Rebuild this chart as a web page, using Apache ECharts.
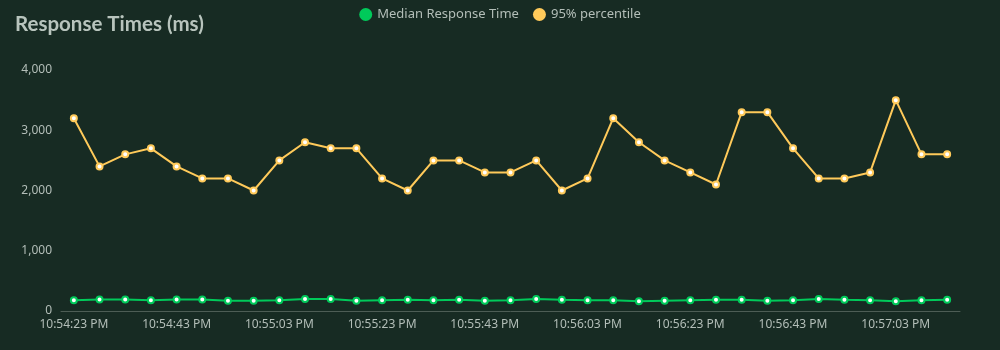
<!DOCTYPE html>
<html>
<head>
<meta charset="utf-8">
<title>Response Times (ms)</title>
<script src="https://cdn.jsdelivr.net/npm/echarts@6/dist/echarts.min.js"></script>
<style>
  html, body { margin: 0; padding: 0; background: #172b23; }
  #chart { width: 1000px; height: 350px; }
</style>
</head>
<body>
<div id="chart"></div>
<script>
// Sample timestamps, one every 5 seconds
const times = [
  '10:54:23 PM', '10:54:28 PM', '10:54:33 PM', '10:54:38 PM', '10:54:43 PM',
  '10:54:48 PM', '10:54:53 PM', '10:54:58 PM', '10:55:03 PM', '10:55:08 PM',
  '10:55:13 PM', '10:55:18 PM', '10:55:23 PM', '10:55:28 PM', '10:55:33 PM',
  '10:55:38 PM', '10:55:43 PM', '10:55:48 PM', '10:55:53 PM', '10:55:58 PM',
  '10:56:03 PM', '10:56:08 PM', '10:56:13 PM', '10:56:18 PM', '10:56:23 PM',
  '10:56:28 PM', '10:56:33 PM', '10:56:38 PM', '10:56:43 PM', '10:56:48 PM',
  '10:56:53 PM', '10:56:58 PM', '10:57:03 PM', '10:57:08 PM', '10:57:13 PM'
];

// Median response time (ms)
const median = [
  180, 190, 190, 180, 190, 190, 170, 170, 180, 200,
  200, 170, 180, 185, 180, 185, 170, 180, 200, 185,
  180, 180, 160, 170, 180, 185, 185, 170, 180, 200,
  185, 180, 160, 180, 185
];

// 95th percentile response time (ms)
const p95 = [
  3200, 2400, 2600, 2700, 2400, 2200, 2200, 2000, 2500, 2800,
  2700, 2700, 2200, 2000, 2500, 2500, 2300, 2300, 2500, 2000,
  2200, 3200, 2800, 2500, 2300, 2100, 3300, 3300, 2700, 2200,
  2200, 2300, 3500, 2600, 2600
];

const seriesNames = ['Median Response Time', '95% percentile'];
const yTicks = { min: 0, max: 4000, step: 1000 };

const font = '"Noto Sans", "Open Sans", sans-serif';
const textColor = '#b3beb8';

const chart = echarts.init(document.getElementById('chart'), null, { renderer: 'canvas' });

chart.setOption({
  backgroundColor: '#172b23',
  color: ['#00ca5a', '#ffca5a'],
  textStyle: { fontFamily: font },
  title: {
    text: 'Response Times (ms)',
    left: 10,
    top: 9,
    textStyle: { color: '#b8c4bd', fontSize: 20.5, fontWeight: 'bold', fontFamily: 'Lato, "Noto Sans", sans-serif' }
  },
  legend: {
    data: seriesNames,
    top: 3,
    left: 'center',
    icon: 'circle',
    itemWidth: 13,
    itemHeight: 13,
    itemGap: 14,
    textStyle: { color: textColor, fontSize: 13, fontFamily: font }
  },
  grid: { left: 61, right: 40, top: 70, bottom: 39 },
  xAxis: {
    type: 'category',
    data: times,
    boundaryGap: true,
    axisLine: { lineStyle: { color: '#4d5d55', width: 1 } },
    axisTick: { lineStyle: { color: '#4d5d55' } },
    axisLabel: { interval: 3, color: textColor, fontSize: 12, fontFamily: font }
  },
  yAxis: {
    type: 'value',
    min: yTicks.min,
    max: yTicks.max,
    interval: yTicks.step,
    axisLine: { show: false },
    axisTick: { show: false },
    splitLine: { show: false },
    axisLabel: {
      color: textColor,
      fontSize: 12,
      fontFamily: font,
      margin: 9,
      formatter: v => v.toLocaleString('en-US')
    }
  },
  series: [
    {
      name: seriesNames[0],
      type: 'line',
      data: median,
      symbol: 'emptyCircle',
      symbolSize: 6,
      lineStyle: { width: 2 },
      itemStyle: { borderWidth: 2 }
    },
    {
      name: seriesNames[1],
      type: 'line',
      data: p95,
      symbol: 'emptyCircle',
      symbolSize: 6,
      lineStyle: { width: 2 },
      itemStyle: { borderWidth: 2 }
    }
  ]
});
</script>
</body>
</html>
